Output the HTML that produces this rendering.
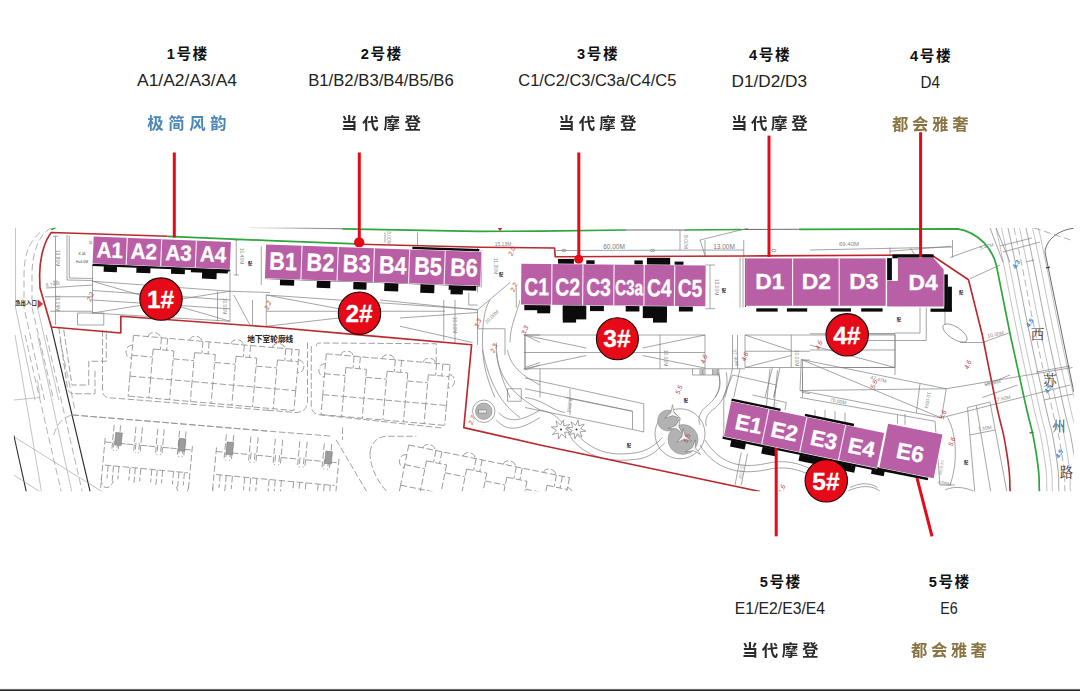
<!DOCTYPE html>
<html lang="zh-CN"><head><meta charset="utf-8"><title>楼栋户型分布图</title>
<style>html,body{margin:0;padding:0;background:#fff;}body{width:1080px;height:691px;overflow:hidden;}svg{display:block;font-family:'Liberation Sans','Noto Sans CJK SC',sans-serif;}</style></head><body>
<svg width="1080" height="691" viewBox="0 0 1080 691">
<defs><filter id="soft" x="-5%" y="-20%" width="110%" height="140%"><feGaussianBlur stdDeviation="0.35"/></filter><clipPath id="mapclip"><rect x="13.8" y="227.7" width="1060" height="263.6"/></clipPath></defs>
<rect x="0" y="0" width="1080" height="691" fill="#fff"/>
<g id="cad" clip-path="url(#mapclip)" fill="none">
<path stroke="#7e7e7e" stroke-width="0.7" d="M 67 235 L 67 280 L 93 280.5 M 69.25 235.5 L 69.25 278 L 93 278.5 M 92.5 265 L 92.5 313.75 M 92.5 281.25 L 230 291.25 L 230 321.25 L 92.5 313 M 92.5 281.25 L 230 321.25 M 92.5 313 L 230 291.25 M 92.5 290.5 L 230 300 M 92.5 300 L 230 308.75 M 46.25 288 L 92.5 285 M 45 296.75 L 92.5 296.75 M 50 311.25 L 92.5 311.25 M 77.5 313 L 103.75 313 L 103.75 325 L 77.5 325 Z M 55.5 236.25 L 55.5 325 M 53 281.25 L 58 281.25 M 53 236.25 L 58 236.25 M 236.25 240 L 236.25 275 M 233.75 240 L 238.75 240 M 233.75 275 L 238.75 275 M 230 268.75 L 230 291.25 M 233.75 295 L 250 325 M 230 291.25 L 270 292.5 M 252.5 300 L 252.5 325.5 M 217.5 291.25 L 217.5 321.25 M 261.25 246.25 L 261.25 285"/>
<path stroke="#9a9a9a" stroke-width="0.6" d="M 15.5 228 L 15.5 307.5 L 35 400 M 37.5 307.5 L 58.75 400"/>
<path stroke="#989898" stroke-width="0.75" stroke-dasharray="7 3.5" d="M 40 232.5 C 27.5 243.75 24 257.5 24 275 L 24 307.5 L 44.5 400 M 51.25 228 C 37.5 235 32 255 32 275 L 32 300 M 32 307.5 L 53.75 400"/>
<path stroke="#2a2a2a" stroke-width="1.1" d="M51.3 327 L90.2 492"/>
<path stroke="#7e7e7e" stroke-width="0.7" d="M 250 226.25 L 342.5 228.75 M 266.25 295 L 477.5 309.5 M 266.25 295 L 266.25 326.25 M 266.25 311.25 L 337.5 311.25 M 266.25 295 L 338.75 308.75 M 266.25 326.25 L 338.75 318 M 380 300 L 477.5 310 M 400 318 L 477.5 312.5 M 400 326.25 L 472.5 342.5 M 380 311.25 L 445 311.25 M 443.75 300 L 443.75 340.5 M 455 300 L 455 342.5 M 477.5 248 L 477.5 292.5 M 481.25 250 L 481.25 287.5 M 468.75 293 L 468.75 305 L 477.5 305 M 477.5 310 L 510 282.5 M 477.5 310 L 477.5 345 M 477.5 328.75 L 505 328.75 L 505 355 M 490 300 C 485 307.5 482.5 320 482.5 342.5 M 482.5 342.5 C 482.5 365 487.5 380 495 397.5 M 496.25 342.5 C 496.25 365 502.5 380 510 397.5 M 516.25 287.5 L 516.25 307.5 M 520 300 C 517.5 312.5 510 325 510 342.5 M 525 335 L 540 335 M 525 335 L 525 370 L 540 365 M 385 232.5 L 385 242.5 M 417.5 232.5 L 417.5 245"/>
<path stroke="#444" stroke-width="0.8" d="M 626.25 230 L 685 230 M 741.25 229.5 L 798.75 229.25"/>
<path stroke="#7e7e7e" stroke-width="0.7" d="M 556.25 250.5 L 743.75 250 M 680 230 L 680 250 M 700 240 L 705.5 257 M 700 240 L 748.75 228 M 743.75 240 L 743.75 257 M 705 240 L 705 257 M 710 265 L 710 308.75 M 705.5 265 L 715 265 M 705.5 308.75 L 715 308.75 M 740 257.5 L 740 307.5 M 743 257.5 L 743 307.5 M 523.75 335 L 705 335 L 705 368.75 L 523.75 368.75 M 523.75 352.5 L 705 352.5 M 523.75 335 L 586.25 348 M 523.75 368.75 L 586.25 355.5 M 642.5 348 L 705 335 M 642.5 355.5 L 705 368 M 660 335 L 660 368.75 M 692.5 368.75 L 692.5 375 L 718.75 375 L 718.75 368.75 M 745 335 L 810 335 M 745 367.5 L 810 367.5 M 745 335 L 745 367.5 M 791.25 335 L 791.25 367.5 M 745 335 L 791.25 350.5 M 745 367.5 L 791.25 355.5 M 745 351.25 L 810 351.25 M 732.5 335 L 732.5 368.75 M 737.5 335 L 737.5 368.75 M 705 368.75 L 745 368.75 M 732.5 368.75 L 725 397.5 M 740 368.75 L 733.75 397.5 M 718.75 375 C 721.25 385 720 390 715 397.5 M 540 368.75 L 540 397.5 M 802.5 360 L 810 360 M 802.5 360 L 802.5 397.5 M 772.5 367.5 L 765 397.5 M 780 367.5 L 773.75 397.5"/>
<path stroke="#2a2a2a" stroke-width="1.1" d="M 745.5 258 L 745.5 307"/>
<ellipse cx="563.8" cy="250.5" rx="2.2" ry="1.2" stroke="#7e7e7e" stroke-width="0.7"/>
<ellipse cx="652.5" cy="250.5" rx="2.2" ry="1.2" stroke="#7e7e7e" stroke-width="0.7"/>
<ellipse cx="773.8" cy="250.5" rx="2.2" ry="1.2" stroke="#7e7e7e" stroke-width="0.7"/>
<path stroke="#7e7e7e" stroke-width="0.7" d="M 810 250 L 952.5 247 M 952.5 240 L 952.5 257.5 M 890 251.25 L 951.25 246.25 M 890 247.5 L 890 256.25 M 910 247.5 L 915 255 M 946.25 275 L 946.25 307.5 M 950 257.5 L 985 245 M 970 278.75 L 1000 265 M 920 307.5 L 920 333 L 895 333 M 926.25 307.5 L 926.25 340.5 L 867.5 340.5 M 945 307.5 L 945 325 M 960 342.5 L 982.5 342.5 M 982.5 342.5 L 1010 332.5 M 810 333.75 L 895 333.75 L 895 375 M 810 367.5 L 895 367.5 M 810 345 L 895 367.5 M 857.5 333.75 L 895 333.75 M 810 350 L 895 350 M 985 385 L 1010 375 M 982.5 397.5 L 1017.5 385"/>
<ellipse cx="955.0" cy="333.0" rx="14" ry="6" transform="rotate(33 955.0 333.0)" stroke="#7e7e7e" stroke-width="0.7"/>
<path stroke="#2a2a2a" stroke-width="1.1" d="M 13.75 435 L 27 495"/>
<path stroke="#9a9a9a" stroke-width="0.6" d="M 15 335 L 42 495 M 37.5 335 L 72.5 495 M 13.75 475 L 45 495 M 15 437.5 L 107.5 495 M 13.75 400 L 40 397.5 L 37.5 380"/>
<path stroke="#989898" stroke-width="0.75" stroke-dasharray="7 3.5" d="M 25 335 L 62 495 M 46.25 335 L 83 495 M 60 340 L 75 410 M 53.75 435 C 57.5 422.5 65 415 75 415"/>
<path stroke="#969696" stroke-width="0.9" stroke-dasharray="6.5 2.5" d="M 63.75 330 L 72 385 L 88.75 385 L 88.75 361.25 L 106.25 361.25 L 106.25 330 M 58.75 327.5 L 67.5 388.75 C 68.75 393 72.5 393.75 75 393.75 L 95 393.75 L 95 370"/>
<path stroke="#969696" stroke-width="0.9" stroke-dasharray="6.5 2.5" d="M 102.5 330 L 102.5 391.25 C 103 397 107.5 398 112.5 398 L 270 410.5 M 72.5 415 L 150 421.25 L 270 431.25"/>
<g transform="translate(133.5 335.3) rotate(5.0)"><path stroke="#969696" stroke-width="0.9" stroke-dasharray="6.5 2.5" d="M0 0 L166.4 0 M14.8 0 C14.8 -6 26.8 -6 26.8 0 M56.4 0 C56.4 -6 68.4 -6 68.4 0 M98.0 0 C98.0 -6 110.0 -6 110.0 0 M139.6 0 C139.6 -6 151.6 -6 151.6 0 M0 10 C-8 10 -8 23 0 23 M166.4 10 C174.4 10 174.4 23 166.4 23 M0.0 0 L0.0 41 M20.8 12 L20.8 41 M41.6 12 L41.6 41 M62.4 12 L62.4 41 M83.2 12 L83.2 41 M104.0 12 L104.0 41 M124.8 12 L124.8 41 M145.6 12 L145.6 41 M166.4 0 L166.4 41 M0.0 20 L20.8 20 M20.8 12 L41.6 12 M28.1 0 L28.1 12 M34.3 0 L34.3 12 M41.6 20 L62.4 20 M62.4 12 L83.2 12 M69.7 0 L69.7 12 M75.9 0 L75.9 12 M83.2 20 L104.0 20 M104.0 12 L124.8 12 M111.3 0 L111.3 12 M117.5 0 L117.5 12 M124.8 20 L145.6 20 M145.6 12 L166.4 12 M152.9 0 L152.9 12 M159.1 0 L159.1 12 M0 41 L166.4 41 M0.0 41 L0.0 61 M20.8 41 L20.8 61 M41.6 41 L41.6 61 M62.4 41 L62.4 61 M83.2 41 L83.2 61 M104.0 41 L104.0 61 M124.8 41 L124.8 61 M145.6 41 L145.6 61 M166.4 41 L166.4 61 M0 61 L166.4 61"/></g>
<g transform="translate(326.3 353.8) rotate(5.0)"><path stroke="#969696" stroke-width="0.9" stroke-dasharray="6.5 2.5" d="M0 0 L124.19999999999999 0 M14.7 0 C14.7 -6 26.7 -6 26.7 0 M56.1 0 C56.1 -6 68.1 -6 68.1 0 M97.5 0 C97.5 -6 109.5 -6 109.5 0 M0 10 C-8 10 -8 23 0 23 M124.19999999999999 10 C132.2 10 132.2 23 124.19999999999999 23 M0.0 0 L0.0 41 M20.7 12 L20.7 41 M41.4 12 L41.4 41 M62.1 12 L62.1 41 M82.8 12 L82.8 41 M103.5 12 L103.5 41 M124.2 0 L124.2 41 M0.0 20 L20.7 20 M20.7 12 L41.4 12 M27.9 0 L27.9 12 M34.2 0 L34.2 12 M41.4 20 L62.1 20 M62.1 12 L82.8 12 M69.3 0 L69.3 12 M75.6 0 L75.6 12 M82.8 20 L103.5 20 M103.5 12 L124.2 12 M110.7 0 L110.7 12 M117.0 0 L117.0 12 M0 41 L124.19999999999999 41 M0.0 41 L0.0 61 M20.7 41 L20.7 61 M41.4 41 L41.4 61 M62.1 41 L62.1 61 M82.8 41 L82.8 61 M103.5 41 L103.5 61 M124.2 41 L124.2 61 M0 61 L124.19999999999999 61"/></g>
<path stroke="#969696" stroke-width="0.9" stroke-dasharray="6.5 2.5" d="M 316.25 346.25 C 316.25 343.75 317.5 343 320 343 L 436.25 343.75 L 436.25 362.5 M 311.25 346.25 L 311.25 406.25 C 312 413 316.25 414.5 321.25 415 L 442.5 428 M 307.5 342.5 L 307.5 402.5 C 306.25 410 302.5 412.5 295 412.5 L 265 410 M 336.25 440 L 368.75 495 M 342.5 427.5 L 342.5 440 M 370 452.5 C 371.25 442.5 377.5 436.25 387.5 436.25 L 416.25 436.25 M 370 452.5 C 370 470 380 485 390 495"/>
<g transform="translate(105.2 438.0) rotate(5.3)"><path stroke="#969696" stroke-width="0.9" stroke-dasharray="6.5 2.5" d="M0 0 L0 50 M87.6 0 L87.6 50 M0.0 4 L7.7 4 M14.2 4 L21.9 4 M7.7 -14 L7.7 10 M14.2 -14 L14.2 10 M9.2 2 L9.2 12 M12.7 2 L12.7 12 M21.9 4 L29.6 4 M36.1 4 L43.8 4 M29.6 -14 L29.6 10 M36.1 -14 L36.1 10 M31.1 2 L31.1 12 M34.6 2 L34.6 12 M43.8 4 L51.5 4 M58.0 4 L65.7 4 M51.5 -14 L51.5 10 M58.0 -14 L58.0 10 M53.0 2 L53.0 12 M56.5 2 L56.5 12 M65.7 4 L73.4 4 M79.9 4 L87.6 4 M73.4 -14 L73.4 10 M79.9 -14 L79.9 10 M74.9 2 L74.9 12 M78.4 2 L78.4 12 M2 27 L85.6 27 M5.5 27 L5.5 40 M10.9 27 L10.9 42 M16.4 27 L16.4 40 M27.4 27 L27.4 40 M32.8 27 L32.8 42 M38.3 27 L38.3 40 M49.3 27 L49.3 40 M54.8 27 L54.8 42 M60.2 27 L60.2 40 M71.2 27 L71.2 40 M76.6 27 L76.6 42 M82.1 27 L82.1 40 M0 40 C0 52 10 52 12 42 M87.6 40 C87.6 52 77.6 52 75.6 42"/><rect x="10.0" y="-6.5" width="6.6" height="12.4" fill="#9c9c9c" stroke="#707070" stroke-width="0.5"/><rect x="73.8" y="-6.5" width="6.6" height="12.4" fill="#9c9c9c" stroke="#707070" stroke-width="0.5"/></g>
<g transform="translate(216.5 447.5) rotate(5.3)"><path stroke="#969696" stroke-width="0.9" stroke-dasharray="6.5 2.5" d="M0 0 L0 50 M123.0 0 L123.0 50 M0.0 4 L8.6 4 M16.0 4 L24.6 4 M8.6 -14 L8.6 10 M16.0 -14 L16.0 10 M10.3 2 L10.3 12 M14.3 2 L14.3 12 M24.6 4 L33.2 4 M40.6 4 L49.2 4 M33.2 -14 L33.2 10 M40.6 -14 L40.6 10 M34.9 2 L34.9 12 M38.9 2 L38.9 12 M49.2 4 L57.8 4 M65.2 4 L73.8 4 M57.8 -14 L57.8 10 M65.2 -14 L65.2 10 M59.5 2 L59.5 12 M63.5 2 L63.5 12 M73.8 4 L82.4 4 M89.8 4 L98.4 4 M82.4 -14 L82.4 10 M89.8 -14 L89.8 10 M84.1 2 L84.1 12 M88.1 2 L88.1 12 M98.4 4 L107.0 4 M114.4 4 L123.0 4 M107.0 -14 L107.0 10 M114.4 -14 L114.4 10 M108.7 2 L108.7 12 M112.7 2 L112.7 12 M2 27 L121.0 27 M6.2 27 L6.2 40 M12.3 27 L12.3 42 M18.5 27 L18.5 40 M30.8 27 L30.8 40 M36.9 27 L36.9 42 M43.1 27 L43.1 40 M55.4 27 L55.4 40 M61.5 27 L61.5 42 M67.7 27 L67.7 40 M80.0 27 L80.0 40 M86.1 27 L86.1 42 M92.3 27 L92.3 40 M104.6 27 L104.6 40 M110.7 27 L110.7 42 M116.9 27 L116.9 40 M0 40 C0 52 10 52 12 42 M123.0 40 C123.0 52 113.0 52 111.0 42"/><rect x="10.0" y="-6.5" width="6.6" height="12.4" fill="#9c9c9c" stroke="#707070" stroke-width="0.5"/><rect x="109.2" y="-6.5" width="6.6" height="12.4" fill="#9c9c9c" stroke="#707070" stroke-width="0.5"/></g>
<path stroke="#969696" stroke-width="0.9" stroke-dasharray="6.5 2.5" d="M72.5 415 L150 421.3 L270 431.3 L330 436"/>
<g transform="translate(408.8 445.0) rotate(11.5)"><path stroke="#969696" stroke-width="0.9" stroke-dasharray="6.5 2.5" d="M0 0 L164.0 0 M14.5 0 C14.5 -6 26.5 -6 26.5 0 M55.5 0 C55.5 -6 67.5 -6 67.5 0 M96.5 0 C96.5 -6 108.5 -6 108.5 0 M137.5 0 C137.5 -6 149.5 -6 149.5 0 M0 10 C-8 10 -8 23 0 23 M164.0 10 C172.0 10 172.0 23 164.0 23 M0.0 0 L0.0 41 M20.5 12 L20.5 41 M41.0 12 L41.0 41 M61.5 12 L61.5 41 M82.0 12 L82.0 41 M102.5 12 L102.5 41 M123.0 12 L123.0 41 M143.5 12 L143.5 41 M164.0 0 L164.0 41 M0.0 20 L20.5 20 M20.5 12 L41.0 12 M27.7 0 L27.7 12 M33.8 0 L33.8 12 M41.0 20 L61.5 20 M61.5 12 L82.0 12 M68.7 0 L68.7 12 M74.8 0 L74.8 12 M82.0 20 L102.5 20 M102.5 12 L123.0 12 M109.7 0 L109.7 12 M115.8 0 L115.8 12 M123.0 20 L143.5 20 M143.5 12 L164.0 12 M150.7 0 L150.7 12 M156.8 0 L156.8 12 M0 41 L164.0 41 M0.0 41 L0.0 61 M20.5 41 L20.5 61 M41.0 41 L41.0 61 M61.5 41 L61.5 61 M82.0 41 L82.0 61 M102.5 41 L102.5 61 M123.0 41 L123.0 61 M143.5 41 L143.5 61 M164.0 41 L164.0 61 M0 61 L164.0 61"/></g>
<path stroke="#7e7e7e" stroke-width="0.7" d="M 482.5 350 C 487.5 372.5 495 400 520 417.5 M 496.25 352.5 C 498.75 372.5 507.5 392.5 540 410 M 507.5 350 C 510 362.5 516.25 372.5 540 385 M 507.5 388.75 L 521.25 388.75 L 521.25 401.25 L 507.5 401.25 Z M 525 335 L 525 367.5 L 540 362.5 M 525 335 L 540 342.5 M 496.25 420 C 507.5 432.5 520 430 540 417.5 M 498.75 412.5 C 507.5 422.5 520 422.5 540 410"/>
<circle cx="483.75" cy="411.25" r="11.2" stroke="#7e7e7e" stroke-width="0.7"/>
<circle cx="483.75" cy="411.25" r="8.3" fill="#b4b4b4" stroke="#777" stroke-width="0.5"/>
<rect x="478.75" y="410.00" width="8" height="3" fill="#eee" stroke="#555" stroke-width="0.4"/>
<path stroke="#7e7e7e" stroke-width="0.7" d="M 525 378 L 643.75 403.75 L 643.75 432 M 525 388.75 L 632.5 411.25 L 632.5 429.5 L 525 407.5 M 632.5 429.5 L 643.75 432 M 565 397.5 L 632.5 411.25 M 570 388.75 L 570 415 M 525 397.5 C 545 400 550 410 565 412.5 M 572.5 440 C 590 460 615 462.5 640 458.75 C 652.5 456.25 660 447.5 665 442.5 M 577.5 435 C 595 453.75 615 456.25 637.5 452.5 C 650 450 657.5 442.5 662.5 437.5 M 540 410 C 555 412.5 562.5 420 572.5 440 M 700 445 C 715 470 740 475 765 470 C 785 465 800 470 810 475 M 705 440 C 720 463.75 740 468.75 765 463.75 C 785 458.75 800 463.75 810 468.75 M 718.75 372.5 C 722.5 390 715 400 705 407.5 C 700 412.5 697.5 417.5 700 425 M 726.25 372.5 C 730 392.5 720 405 712.5 410 C 706.25 415 705 420 706.25 426.25 M 723.75 396.25 L 723.75 438.75 M 723.75 396.25 L 732.5 375 M 732.5 375 L 776.25 385 L 773.75 397.5 M 752.5 395 L 786.25 402.5 L 785 410 M 770 368.75 L 766.25 407.5 M 777.5 370 L 773.75 408.75 M 741.25 452.5 L 735 485 M 747.5 453.75 L 741.25 485 M 802.5 372.5 L 802.5 392.5 L 810 393.75"/>
<polygon points="570.66,432.09 564.57,432.24 566.00,438.16 561.59,433.96 558.41,439.16 558.26,433.07 552.34,434.50 556.54,430.09 551.34,426.91 557.43,426.76 556.00,420.84 560.41,425.04 563.59,419.84 563.74,425.93 569.66,424.50 565.46,428.91" fill="#fff" stroke="#7e7e7e" stroke-width="0.7"/>
<polygon points="585.86,431.15 580.11,431.80 581.95,437.28 577.43,433.67 574.85,438.86 574.20,433.11 568.72,434.95 572.33,430.43 567.14,427.85 572.89,427.20 571.05,421.72 575.57,425.33 578.15,420.14 578.80,425.89 584.28,424.05 580.67,428.57" fill="#fff" stroke="#7e7e7e" stroke-width="0.7"/>
<circle cx="561" cy="429.5" r="1" fill="#333"/><circle cx="576.5" cy="429.5" r="1" fill="#333"/>
<circle cx="680.00" cy="433.75" r="25" stroke="#7e7e7e" stroke-width="0.7"/>
<circle cx="668.00" cy="420.50" r="10.5" fill="#b2b2b2" stroke="#888" stroke-width="0.5"/>
<circle cx="683.00" cy="439.50" r="15" fill="#b2b2b2" stroke="#888" stroke-width="0.5"/>
<polygon points="672.50,404.75 674.21,412.76 680.29,418.25 672.50,415.73 664.71,418.25 670.79,412.76" fill="#f4f4f4" stroke="#666" stroke-width="0.5"/>
<polygon points="680.08,418.54 678.95,426.66 682.79,433.89 676.32,428.86 668.14,428.56 675.73,425.48" fill="#f4f4f4" stroke="#666" stroke-width="0.5"/>
<polygon points="682.97,428.53 685.37,436.36 691.91,441.30 683.92,439.47 676.38,442.66 681.96,436.66" fill="#f4f4f4" stroke="#666" stroke-width="0.5"/>
<polygon points="695.31,439.89 695.61,448.07 700.64,454.54 693.41,450.70 685.29,451.83 692.23,447.48" fill="#f4f4f4" stroke="#666" stroke-width="0.5"/>
<path stroke="#7e7e7e" stroke-width="0.7" d="M 801.25 359.5 L 946.25 388.75 L 941.5 418 L 800 390.5 Z M 801.25 359.5 L 941.5 418 M 800 390.5 L 946.25 388.75 M 920 383.5 L 916.25 413 M 800 397.5 L 935 421.25 M 810 335 L 895 335 L 895 367.5 L 840 367.5 M 815 410 L 815 417.5 L 852.5 425 M 825 410 L 825 420 M 835 411.25 L 835 422.5 M 845 412.5 L 845 423.75 M 897.5 415 L 897.5 423.75 M 905 413.75 L 905 425 M 935 421.25 L 940 485 M 946.25 388.75 L 1072.5 367.5 M 942.5 417.5 L 1070 385 M 967.5 407.5 L 990 402 L 1007.5 495 M 967.5 407.5 L 975 495 M 976.25 405.5 L 991.25 495 M 970 435 L 995 430 M 947.5 417.5 C 957.5 435 957.5 465 950 485 M 940 485 L 955 485 M 850 487.5 C 860 482.5 870 482.5 877.5 487.5 M 847.5 491.25 C 860 485 872.5 485 880 491.25 M 945 490 C 955 485 970 487.5 980 495"/>
<path stroke="#9a9a9a" stroke-width="0.6" d="M996.0 228.0 C998.6 240.3 996.5 229.3 1003.8 265.0 C1011.1 300.7 1008.4 290.0 1017.8 335.0 C1027.2 380.0 1023.5 361.0 1032.1 400.0 C1040.7 439.0 1038.5 421.3 1043.5 452.0 C1048.5 482.7 1045.8 478.7 1047.0 492.0"/>
<path stroke="#9a9a9a" stroke-width="0.6" d="M1001.5 228.0 C1004.1 240.3 1002.0 229.3 1009.3 265.0 C1016.6 300.7 1013.9 290.0 1023.3 335.0 C1032.7 380.0 1029.0 361.0 1037.6 400.0 C1046.2 439.0 1044.0 421.3 1049.0 452.0 C1054.0 482.7 1051.3 478.7 1052.5 492.0"/>
<path stroke="#7e7e7e" stroke-width="0.7" d="M1008.0 228.0 C1010.6 240.3 1008.5 229.3 1015.8 265.0 C1023.1 300.7 1020.4 290.0 1029.8 335.0 C1039.2 380.0 1035.5 361.0 1044.1 400.0 C1052.7 439.0 1050.5 421.3 1055.5 452.0 C1060.5 482.7 1057.8 478.7 1059.0 492.0"/>
<path stroke="#989898" stroke-width="0.75" stroke-dasharray="7 3.5" d="M1014.0 228.0 C1016.6 240.3 1014.5 229.3 1021.8 265.0 C1029.1 300.7 1026.4 290.0 1035.8 335.0 C1045.2 380.0 1041.5 361.0 1050.1 400.0 C1058.7 439.0 1056.5 421.3 1061.5 452.0 C1066.5 482.7 1063.8 478.7 1065.0 492.0"/>
<path stroke="#9a9a9a" stroke-width="0.6" d="M1019.5 228.0 C1022.1 240.3 1020.0 229.3 1027.3 265.0 C1034.6 300.7 1031.9 290.0 1041.3 335.0 C1050.7 380.0 1047.0 361.0 1055.6 400.0 C1064.2 439.0 1062.0 421.3 1067.0 452.0 C1072.0 482.7 1069.3 478.7 1070.5 492.0"/>
<path stroke="#7e7e7e" stroke-width="0.7" d="M1026.0 228.0 C1028.6 240.3 1026.5 229.3 1033.8 265.0 C1041.1 300.7 1038.4 290.0 1047.8 335.0 C1057.2 380.0 1053.5 361.0 1062.1 400.0 C1070.7 439.0 1068.5 421.3 1073.5 452.0 C1078.5 482.7 1075.8 478.7 1077.0 492.0"/>
<path stroke="#9a9a9a" stroke-width="0.6" d="M1032.5 228.0 C1035.1 240.3 1033.0 229.3 1040.3 265.0 C1047.6 300.7 1044.9 290.0 1054.3 335.0 C1063.7 380.0 1060.0 361.0 1068.6 400.0 C1077.2 439.0 1075.0 421.3 1080.0 452.0 C1085.0 482.7 1082.3 478.7 1083.5 492.0"/>
<path stroke="#9a9a9a" stroke-width="0.6" d="M1038.5 228.0 C1041.1 240.3 1039.0 229.3 1046.3 265.0 C1053.6 300.7 1050.9 290.0 1060.3 335.0 C1069.7 380.0 1066.0 361.0 1074.6 400.0 C1083.2 439.0 1081.0 421.3 1086.0 452.0 C1091.0 482.7 1088.3 478.7 1089.5 492.0"/>
<path stroke="#7e7e7e" stroke-width="0.7" d="M990 228 L1003 262 M996 228 L1010 262"/>
<path stroke="#7e7e7e" stroke-width="0.7" d="M1000 246 L1032 238 M1003 252 L1040 242 M1026 262 L1034 260 M1036 372 L1070 366 M1044 400 L1073 394"/>
<path stroke="#444" stroke-width="0.8" d="M1073.8 228.3 C1058 230 1046 240 1045 252 L1073.8 392"/>
<path stroke="#2a2a2a" stroke-width="1.1" d="M1046 268 L1050 267 M1029.5 433 L1033.5 432.5"/>
<path stroke="#989898" stroke-width="0.75" stroke-dasharray="7 3.5" d="M1034 228 L1074 241"/>
<text x="1037.5" y="339" font-size="13.5" fill="#3a3a3a" stroke="none" text-anchor="middle" font-weight="400" font-family="'Liberation Serif','Noto Serif CJK SC',serif">西</text>
<text x="1050" y="385" font-size="13.5" fill="#3a3a3a" stroke="none" text-anchor="middle" font-weight="400" font-family="'Liberation Serif','Noto Serif CJK SC',serif">苏</text>
<text x="1059" y="431" font-size="13.5" fill="#3a3a3a" stroke="none" text-anchor="middle" font-weight="400" font-family="'Liberation Serif','Noto Serif CJK SC',serif">州</text>
<text x="1066.6" y="477" font-size="13.5" fill="#3a3a3a" stroke="none" text-anchor="middle" font-weight="400" font-family="'Liberation Serif','Noto Serif CJK SC',serif">路</text>
<path stroke="#2da63b" stroke-width="1.7" d="M51.3 229.8 L55.8 227.2"/>
<path stroke="#2da63b" stroke-width="1.7" d="M167.5 236.4 L270 240.6 L356 243.8"/>
<path stroke="#2da63b" stroke-width="1.7" d="M342.5 228.8 L477.5 231.3 L540 231.2 L626.3 230"/>
<path stroke="#2da63b" stroke-width="1.7" d="M685 230 L741.5 229.5"/>
<path stroke="#2da63b" stroke-width="1.7" d="M799 229.3 L957.5 228.8 C980 232.5 992.5 250 996.3 265 L1010.3 335  C1015.1 356.7 1016.0 361.0 1024.6 400.0 C1033.2 439.0 1031.0 421.3 1036.0 452.0 C1041.0 482.7 1038.3 478.7 1039.5 492.0"/>
<path stroke="#7e7e7e" stroke-width="0.7" d="M250 227.5 L342.5 228.8"/>
<path stroke="#b9292e" stroke-width="1.65" stroke-linejoin="round" d="M167.5 236.3 L51.3 232.5 C45 240 39.6 257 39.6 275 L40 288 L51.3 327 L120.8 333 L120.8 316.3 L270 327 L365 335.4 L471.6 344.8 L463.8 427.6 L540 445 L760 491.5"/>
<path stroke="#b9292e" stroke-width="1.65" stroke-linejoin="round" d="M360 244.2 L481 247.2 L554.6 248 L555.2 256.7 L746 256 L931.5 255 L968.5 279.7 L982.3 335  C986.7 356.7 987.3 361.0 995.4 400.0 C1003.5 439.0 1001.7 421.3 1006.6 452.0 C1011.5 482.7 1009.0 478.7 1010.2 492.0"/>
<text x="26" y="304.5" font-size="5.4" fill="#1e1e1e" stroke="none" text-anchor="middle" font-weight="700">急出入口</text>
<polygon points="37.6,299.3 43.2,303.9 37.6,308.4" fill="#d8383c"/>
<text x="82" y="254.5" font-size="3.6" fill="#444" stroke="none" text-anchor="middle" font-weight="400">K 站</text>
<text x="82" y="263" font-size="3.4" fill="#444" stroke="none" text-anchor="middle" font-weight="400">H=6.0M</text>
<text x="88.5" y="242.5" font-size="3.6" fill="#555" stroke="none" text-anchor="middle" font-weight="400" transform="rotate(90 88.5 242.5)">1F</text>
<text x="270.2" y="342.2" font-size="7.7" fill="#222" stroke="none" text-anchor="middle" font-weight="700">地下室轮廓线</text>
<text x="56" y="258" font-size="5" fill="#888" stroke="none" text-anchor="middle" font-weight="400" transform="rotate(90 56 258)">13.80M</text>
<text x="56" y="303" font-size="5" fill="#888" stroke="none" text-anchor="middle" font-weight="400" transform="rotate(90 56 303)">15.19M</text>
<text x="53" y="286" font-size="5" fill="#888" stroke="none" text-anchor="middle" font-weight="400" transform="rotate(-8 53 286)">8.74M</text>
<text x="240" y="256" font-size="5" fill="#888" stroke="none" text-anchor="middle" font-weight="400" transform="rotate(90 240 256)">10.40M</text>
<text x="222.5" y="306" font-size="5" fill="#888" stroke="none" text-anchor="middle" font-weight="400" transform="rotate(90 222.5 306)">10.00M</text>
<text x="282" y="262" font-size="5" fill="#888" stroke="none" text-anchor="middle" font-weight="400" transform="rotate(90 282 262)">11.20M</text>
<text x="387" y="238" font-size="5" fill="#888" stroke="none" text-anchor="middle" font-weight="400" transform="rotate(90 387 238)">3.00M</text>
<text x="453" y="325" font-size="5" fill="#888" stroke="none" text-anchor="middle" font-weight="400" transform="rotate(90 453 325)">10.00M</text>
<text x="493" y="318" font-size="5" fill="#888" stroke="none" text-anchor="middle" font-weight="400" transform="rotate(-45 493 318)">20.00M</text>
<text x="494" y="266" font-size="5" fill="#888" stroke="none" text-anchor="middle" font-weight="400" transform="rotate(90 494 266)">11.20M</text>
<text x="503" y="245.5" font-size="5" fill="#888" stroke="none" text-anchor="middle" font-weight="400">15.13M</text>
<text x="614" y="249" font-size="6.5" fill="#777" stroke="none" text-anchor="middle" font-weight="400">60.00M</text>
<text x="724" y="249" font-size="6.5" fill="#777" stroke="none" text-anchor="middle" font-weight="400">13.00M</text>
<text x="684" y="242" font-size="5" fill="#888" stroke="none" text-anchor="middle" font-weight="400" transform="rotate(90 684 242)">8.00M</text>
<text x="715" y="287" font-size="5" fill="#888" stroke="none" text-anchor="middle" font-weight="400" transform="rotate(90 715 287)">13.00M</text>
<text x="664" y="358" font-size="5" fill="#888" stroke="none" text-anchor="middle" font-weight="400" transform="rotate(90 664 358)">10.00M</text>
<text x="795" y="358" font-size="5" fill="#888" stroke="none" text-anchor="middle" font-weight="400" transform="rotate(90 795 358)">10.00M</text>
<text x="734" y="358" font-size="5" fill="#888" stroke="none" text-anchor="middle" font-weight="400" transform="rotate(80 734 358)">27.40M</text>
<text x="849" y="245.5" font-size="6" fill="#888" stroke="none" text-anchor="middle" font-weight="400">69.40M</text>
<text x="987" y="248" font-size="5" fill="#888" stroke="none" text-anchor="middle" font-weight="400" transform="rotate(-15 987 248)">5.47M</text>
<text x="996" y="336" font-size="5" fill="#888" stroke="none" text-anchor="middle" font-weight="400" transform="rotate(-12 996 336)">10.00M</text>
<text x="878" y="381" font-size="5" fill="#888" stroke="none" text-anchor="middle" font-weight="400" transform="rotate(15 878 381)">47.47M</text>
<text x="838" y="403" font-size="5" fill="#888" stroke="none" text-anchor="middle" font-weight="400" transform="rotate(12 838 403)">70.00M</text>
<text x="926" y="400" font-size="5" fill="#888" stroke="none" text-anchor="middle" font-weight="400" transform="rotate(100 926 400)">10.00M</text>
<text x="993" y="384.5" font-size="5" fill="#888" stroke="none" text-anchor="middle" font-weight="400" transform="rotate(-12 993 384.5)">50.94M</text>
<text x="1004" y="400" font-size="5" fill="#888" stroke="none" text-anchor="middle" font-weight="400" transform="rotate(-12 1004 400)">7.50M</text>
<text x="985" y="430" font-size="5" fill="#888" stroke="none" text-anchor="middle" font-weight="400" transform="rotate(-10 985 430)">7.30M</text>
<text x="773" y="409" font-size="4.5" fill="#999" stroke="none" text-anchor="middle" font-weight="400" transform="rotate(100 773 409)">22.50M</text>
<text x="740" y="471" font-size="4.5" fill="#999" stroke="none" text-anchor="middle" font-weight="400" transform="rotate(100 740 471)">13.50M</text>
<text x="940" y="467" font-size="4.5" fill="#999" stroke="none" text-anchor="middle" font-weight="400" transform="rotate(100 940 467)">14.50M</text>
<text x="568" y="405" font-size="5" fill="#888" stroke="none" text-anchor="middle" font-weight="400" transform="rotate(100 568 405)">8.20M</text>
<text x="944" y="485" font-size="5" fill="#888" stroke="none" text-anchor="middle" font-weight="400" transform="rotate(10 944 485)">4.00M</text>
<polygon points="497.6,227.8 502.4,227.8 500,231" fill="#cc2b30"/>
<text x="92.5" y="297.5" font-size="6.6" font-style="italic" fill="#b8383c" stroke="none" text-anchor="middle" transform="rotate(-68 92.5 297.5)">2.2</text>
<text x="270" y="306" font-size="6.6" font-style="italic" fill="#b8383c" stroke="none" text-anchor="middle" transform="rotate(-68 270 306)">2.2</text>
<text x="514" y="252" font-size="6.6" font-style="italic" fill="#b8383c" stroke="none" text-anchor="middle" transform="rotate(-68 514 252)">2.0</text>
<text x="516" y="288" font-size="6.6" font-style="italic" fill="#b8383c" stroke="none" text-anchor="middle" transform="rotate(-68 516 288)">2.2</text>
<text x="480" y="324" font-size="6.6" font-style="italic" fill="#b8383c" stroke="none" text-anchor="middle" transform="rotate(-68 480 324)">3.3</text>
<text x="527" y="331" font-size="6.6" font-style="italic" fill="#b8383c" stroke="none" text-anchor="middle" transform="rotate(-68 527 331)">3.3</text>
<text x="496" y="349" font-size="6.6" font-style="italic" fill="#b8383c" stroke="none" text-anchor="middle" transform="rotate(-68 496 349)">2.3</text>
<text x="706" y="360" font-size="6.6" font-style="italic" fill="#b8383c" stroke="none" text-anchor="middle" transform="rotate(-68 706 360)">4.6</text>
<text x="747" y="357.5" font-size="6.6" font-style="italic" fill="#b8383c" stroke="none" text-anchor="middle" transform="rotate(-68 747 357.5)">4.6</text>
<text x="681" y="390.5" font-size="6.6" font-style="italic" fill="#b8383c" stroke="none" text-anchor="middle" transform="rotate(-68 681 390.5)">5.5</text>
<text x="689" y="439" font-size="6.6" font-style="italic" fill="#b8383c" stroke="none" text-anchor="middle" transform="rotate(-68 689 439)">5.5</text>
<text x="821" y="346" font-size="6.6" font-style="italic" fill="#b8383c" stroke="none" text-anchor="middle" transform="rotate(-68 821 346)">4.6</text>
<text x="876" y="385" font-size="6.6" font-style="italic" fill="#b8383c" stroke="none" text-anchor="middle" transform="rotate(-68 876 385)">5.6</text>
<text x="970" y="365.5" font-size="6.6" font-style="italic" fill="#b8383c" stroke="none" text-anchor="middle" transform="rotate(-68 970 365.5)">4.6</text>
<text x="945" y="415.5" font-size="6.6" font-style="italic" fill="#b8383c" stroke="none" text-anchor="middle" transform="rotate(-68 945 415.5)">5.6</text>
<text x="954" y="442.5" font-size="6.6" font-style="italic" fill="#b8383c" stroke="none" text-anchor="middle" transform="rotate(-68 954 442.5)">5.6</text>
<text x="474" y="421" font-size="6.6" font-style="italic" fill="#b8383c" stroke="none" text-anchor="middle" transform="rotate(-68 474 421)">2.7</text>
<text x="784" y="490" font-size="6.6" font-style="italic" fill="#b8383c" stroke="none" text-anchor="middle" transform="rotate(-68 784 490)">1.6</text>
<text x="1018" y="265.5" font-size="6.4" font-style="italic" font-weight="700" fill="#3b80c6" stroke="none" text-anchor="middle" transform="rotate(-60 1018 265.5)">4.3</text>
<text x="1031.5" y="324" font-size="6.4" font-style="italic" font-weight="700" fill="#3b80c6" stroke="none" text-anchor="middle" transform="rotate(-60 1031.5 324)">4.5</text>
<text x="1050" y="390" font-size="6.4" font-style="italic" font-weight="700" fill="#3b80c6" stroke="none" text-anchor="middle" transform="rotate(-60 1050 390)">4.5</text>
<text x="1061" y="455" font-size="6.4" font-style="italic" font-weight="700" fill="#3b80c6" stroke="none" text-anchor="middle" transform="rotate(-60 1061 455)">4.5</text>
<text x="723.8" y="292" font-size="4.2" fill="#222" stroke="none" text-anchor="middle" font-weight="700">配</text>
<text x="961" y="293.5" font-size="4.2" fill="#222" stroke="none" text-anchor="middle" font-weight="700">配</text>
<text x="898.8" y="321" font-size="4.2" fill="#222" stroke="none" text-anchor="middle" font-weight="700">配</text>
<text x="685.8" y="402" font-size="4.2" fill="#222" stroke="none" text-anchor="middle" font-weight="700">配</text>
<text x="628.8" y="446.5" font-size="4.2" fill="#222" stroke="none" text-anchor="middle" font-weight="700">配</text>
<text x="966" y="464" font-size="4.2" fill="#222" stroke="none" text-anchor="middle" font-weight="700">配</text>
<text x="501" y="275.5" font-size="4.2" fill="#222" stroke="none" text-anchor="middle" font-weight="700">配</text>
<text x="250" y="264.5" font-size="4.2" fill="#222" stroke="none" text-anchor="middle" font-weight="700">配</text>
<path stroke="#7e7e7e" stroke-width="0.7" d="M 700 369.25 L 700 375 M 701.25 369.25 L 701.25 375 M 702.5 369.25 L 702.5 375 M 703.75 369.25 L 703.75 375 M 705 369.25 L 705 375 M 712.5 369.25 L 712.5 375 M 713.75 369.25 L 713.75 375 M 715 369.25 L 715 375 M 716.25 369.25 L 716.25 375 M 717.5 369.25 L 717.5 375"/>
</g>
<g fill="#0b0b0b">
<g transform="translate(93.7 236.6) rotate(2.3)">
<rect x="0" y="26.8" width="137.3" height="2.5"/>
<rect x="11.3" y="29" width="13.2" height="5.7"/>
<rect x="44" y="29" width="14" height="5.3"/>
<rect x="78.7" y="29" width="13.8" height="4.9"/>
<rect x="109.8" y="29" width="14.6" height="8.6"/>
<rect x="98.5" y="29" width="37" height="2.6"/>
</g>
<g transform="translate(266.1 244.5) rotate(2.0)">
<rect x="15.2" y="34.2" width="14.2" height="6.0"/>
<rect x="52" y="34.2" width="13.6" height="7.2"/>
<rect x="88.6" y="34.2" width="13.2" height="7.4"/>
<rect x="119.6" y="34.2" width="14.0" height="8.2"/>
<rect x="155.7" y="34.2" width="14.0" height="8.6"/>
<rect x="184" y="33.6" width="27.5" height="5.2"/>
<rect x="186" y="33.6" width="12.3" height="9.6"/>
<rect x="0" y="33.4" width="215.4" height="1.0"/>
<rect x="146.3" y="-2.9" width="67" height="2.9"/>
</g>
<rect x="558" y="258.9" width="15.90" height="5.30"/>
<rect x="586.3" y="260.3" width="8.30" height="4.10"/>
<rect x="634.4" y="260.4" width="8.40" height="4.60"/>
<rect x="646.9" y="257.8" width="23.30" height="7.40"/>
<rect x="674.6" y="261.6" width="8.90" height="4.00"/>
<rect x="524.3" y="304.6" width="25.90" height="5.60"/>
<rect x="537.2" y="306" width="13.00" height="7.30"/>
<rect x="562.8" y="305" width="23.50" height="14.40"/>
<rect x="562.8" y="305" width="13.30" height="17.60"/>
<rect x="590" y="305.2" width="13.90" height="5.90"/>
<rect x="625.7" y="305.5" width="13.70" height="6.00"/>
<rect x="642.8" y="305.8" width="24.10" height="12.30"/>
<rect x="653" y="305.8" width="13.90" height="16.80"/>
<rect x="678.9" y="306" width="13.90" height="5.50"/>
<rect x="756.3" y="308.3" width="21.40" height="3.30"/>
<rect x="786.9" y="308.3" width="20.30" height="3.30"/>
<rect x="830.6" y="308.3" width="20.40" height="3.30"/>
<rect x="861.2" y="308.3" width="21.40" height="3.30"/>
<rect x="930.5" y="308.6" width="21.40" height="3.20"/>
<rect x="887.1" y="258.1" width="4.80" height="22.50"/>
<rect x="892.4" y="254.4" width="41.20" height="3.90"/>
<rect x="944.2" y="274.4" width="3.70" height="34.60"/>
<rect x="947.6" y="286.7" width="4.30" height="24.50"/>
<g transform="translate(731.2 401.3) rotate(11.75)">
<rect x="-1" y="35.5" width="158.5" height="3.0"/>
<rect x="8" y="38" width="15" height="6.5"/>
<rect x="40" y="38" width="14" height="7"/>
<rect x="78" y="38" width="28" height="6.5"/>
<rect x="113" y="38" width="22" height="7"/>
<rect x="0" y="-2.8" width="50" height="2.8"/>
<rect x="75" y="-3.0" width="50" height="3.0"/>
</g>
<g transform="translate(888.1 423.7) rotate(11.3)">
<rect x="-12" y="44.4" width="62" height="3.4"/>
<rect x="-7" y="47" width="13" height="5.5"/>
</g>
</g>
<g stroke="#e60a18" stroke-width="3" stroke-linecap="butt">
<line x1="174.3" y1="152.5" x2="174.3" y2="237.5"/>
<line x1="359.3" y1="152.5" x2="359.3" y2="243"/>
<line x1="578.8" y1="152.5" x2="578.8" y2="260"/>
<line x1="769" y1="135.6" x2="769" y2="257"/>
<line x1="920.6" y1="132.2" x2="920.6" y2="259"/>
<line x1="776.2" y1="447.5" x2="776.2" y2="536.3"/>
<line x1="917" y1="478" x2="932" y2="536.3"/>
</g>
<circle cx="359.2" cy="242.4" r="5.2" fill="#e60a18"/>
<circle cx="578.7" cy="259.3" r="4.5" fill="#e60a18"/>
<g transform="translate(93.7,236.6) rotate(2.3)"><rect x="-0.5" y="-0.5" width="138.3" height="27.8" fill="#fff"/><rect x="0" y="0" width="137.3" height="26.8" fill="#b95fa6"/><text x="16.80" y="20.42" font-size="22" font-weight="700" fill="#fff" stroke="#fff" stroke-width="0.35" text-anchor="middle" textLength="26.2" lengthAdjust="spacingAndGlyphs">A1</text><line x1="33.60" y1="0" x2="33.60" y2="26.8" stroke="#fbf3f9" stroke-width="1.1"/><text x="50.85" y="20.42" font-size="22" font-weight="700" fill="#fff" stroke="#fff" stroke-width="0.35" text-anchor="middle" textLength="26.2" lengthAdjust="spacingAndGlyphs">A2</text><line x1="68.10" y1="0" x2="68.10" y2="26.8" stroke="#fbf3f9" stroke-width="1.1"/><text x="85.45" y="20.42" font-size="22" font-weight="700" fill="#fff" stroke="#fff" stroke-width="0.35" text-anchor="middle" textLength="26.2" lengthAdjust="spacingAndGlyphs">A3</text><line x1="102.80" y1="0" x2="102.80" y2="26.8" stroke="#fbf3f9" stroke-width="1.1"/><text x="120.05" y="20.42" font-size="22" font-weight="700" fill="#fff" stroke="#fff" stroke-width="0.35" text-anchor="middle" textLength="26.2" lengthAdjust="spacingAndGlyphs">A4</text></g>
<g transform="translate(266.1,244.5) rotate(2.0)"><rect x="-0.5" y="-0.5" width="216.4" height="34.8" fill="#fff"/><rect x="0" y="0" width="215.4" height="33.8" fill="#b95fa6"/><text x="17.70" y="24.90" font-size="25" font-weight="700" fill="#fff" stroke="#fff" stroke-width="0.35" text-anchor="middle" textLength="27.6" lengthAdjust="spacingAndGlyphs">B1</text><line x1="36.00" y1="0" x2="36.00" y2="33.8" stroke="#fbf3f9" stroke-width="1.1"/><text x="54.90" y="24.90" font-size="25" font-weight="700" fill="#fff" stroke="#fff" stroke-width="0.35" text-anchor="middle" textLength="27.6" lengthAdjust="spacingAndGlyphs">B2</text><line x1="72.20" y1="0" x2="72.20" y2="33.8" stroke="#fbf3f9" stroke-width="1.1"/><text x="91.20" y="24.90" font-size="25" font-weight="700" fill="#fff" stroke="#fff" stroke-width="0.35" text-anchor="middle" textLength="27.6" lengthAdjust="spacingAndGlyphs">B3</text><line x1="108.40" y1="0" x2="108.40" y2="33.8" stroke="#fbf3f9" stroke-width="1.1"/><text x="127.35" y="24.90" font-size="25" font-weight="700" fill="#fff" stroke="#fff" stroke-width="0.35" text-anchor="middle" textLength="27.6" lengthAdjust="spacingAndGlyphs">B4</text><line x1="143.70" y1="0" x2="143.70" y2="33.8" stroke="#fbf3f9" stroke-width="1.1"/><text x="162.70" y="24.90" font-size="25" font-weight="700" fill="#fff" stroke="#fff" stroke-width="0.35" text-anchor="middle" textLength="27.6" lengthAdjust="spacingAndGlyphs">B5</text><line x1="179.30" y1="0" x2="179.30" y2="33.8" stroke="#fbf3f9" stroke-width="1.1"/><text x="198.65" y="24.90" font-size="25" font-weight="700" fill="#fff" stroke="#fff" stroke-width="0.35" text-anchor="middle" textLength="27.6" lengthAdjust="spacingAndGlyphs">B6</text></g>
<g transform="translate(521.4,263.8) rotate(0.55)"><rect x="-0.5" y="-0.5" width="185.3" height="41.8" fill="#fff"/><rect x="0" y="0" width="184.3" height="40.8" fill="#b95fa6"/><text x="15.50" y="31.32" font-size="24.5" font-weight="700" fill="#fff" stroke="#fff" stroke-width="0.35" text-anchor="middle" textLength="24.6" lengthAdjust="spacingAndGlyphs">C1</text><line x1="30.60" y1="0" x2="30.60" y2="40.8" stroke="#fbf3f9" stroke-width="1.1"/><text x="46.50" y="31.32" font-size="24.5" font-weight="700" fill="#fff" stroke="#fff" stroke-width="0.35" text-anchor="middle" textLength="24.6" lengthAdjust="spacingAndGlyphs">C2</text><line x1="61.60" y1="0" x2="61.60" y2="40.8" stroke="#fbf3f9" stroke-width="1.1"/><text x="77.35" y="31.32" font-size="24.5" font-weight="700" fill="#fff" stroke="#fff" stroke-width="0.35" text-anchor="middle" textLength="24.6" lengthAdjust="spacingAndGlyphs">C3</text><line x1="92.70" y1="0" x2="92.70" y2="40.8" stroke="#fbf3f9" stroke-width="1.1"/><text x="108.00" y="30.28" font-size="21.6" font-weight="700" fill="#fff" stroke="#fff" stroke-width="0.35" text-anchor="middle" textLength="28" lengthAdjust="spacingAndGlyphs">C3a</text><line x1="122.90" y1="0" x2="122.90" y2="40.8" stroke="#fbf3f9" stroke-width="1.1"/><text x="138.15" y="31.32" font-size="24.5" font-weight="700" fill="#fff" stroke="#fff" stroke-width="0.35" text-anchor="middle" textLength="24.6" lengthAdjust="spacingAndGlyphs">C4</text><line x1="153.40" y1="0" x2="153.40" y2="40.8" stroke="#fbf3f9" stroke-width="1.1"/><text x="168.85" y="31.32" font-size="24.5" font-weight="700" fill="#fff" stroke="#fff" stroke-width="0.35" text-anchor="middle" textLength="24.6" lengthAdjust="spacingAndGlyphs">C5</text></g>
<g transform="translate(746.1,258.4) rotate(0)"><rect x="-0.5" y="-0.5" width="140.6" height="48.4" fill="#fff"/><rect x="0" y="0" width="139.6" height="47.4" fill="#b95fa6"/><text x="23.85" y="30.31" font-size="22.8" font-weight="700" fill="#fff" stroke="#fff" stroke-width="0.35" text-anchor="middle">D1</text><line x1="46.50" y1="0" x2="46.50" y2="47.4" stroke="#fbf3f9" stroke-width="1.1"/><text x="70.20" y="30.31" font-size="22.8" font-weight="700" fill="#fff" stroke="#fff" stroke-width="0.35" text-anchor="middle">D2</text><line x1="93.10" y1="0" x2="93.10" y2="47.4" stroke="#fbf3f9" stroke-width="1.1"/><text x="117.85" y="30.31" font-size="22.8" font-weight="700" fill="#fff" stroke="#fff" stroke-width="0.35" text-anchor="middle">D3</text></g>
<path d="M897.9 258.1 L933.5 258.1 L943.7 269.4 L943.7 306.4 L887.1 306.4 L887.1 281 L897.9 281 Z" fill="#b95fa6" stroke="#fff" stroke-width="1" paint-order="stroke"/>
<text x="923" y="289.7" font-size="22.8" font-weight="700" fill="#fff" stroke="#fff" stroke-width="0.35" text-anchor="middle">D4</text>
<g transform="translate(731.2,401.3) rotate(11.75)"><rect x="-0.5" y="-0.5" width="157.2" height="36.7" fill="#fff"/><rect x="0" y="0" width="156.2" height="35.7" fill="#b95fa6"/><text x="21.90" y="26.37" font-size="22" font-weight="700" fill="#fff" stroke="#fff" stroke-width="0.35" text-anchor="middle">E1</text><line x1="38.60" y1="0" x2="38.60" y2="35.7" stroke="#fbf3f9" stroke-width="1.1"/><text x="58.30" y="26.37" font-size="22" font-weight="700" fill="#fff" stroke="#fff" stroke-width="0.35" text-anchor="middle">E2</text><line x1="77.40" y1="0" x2="77.40" y2="35.7" stroke="#fbf3f9" stroke-width="1.1"/><text x="98.60" y="26.37" font-size="22" font-weight="700" fill="#fff" stroke="#fff" stroke-width="0.35" text-anchor="middle">E3</text><line x1="117.00" y1="0" x2="117.00" y2="35.7" stroke="#fbf3f9" stroke-width="1.1"/><text x="137.00" y="26.37" font-size="22" font-weight="700" fill="#fff" stroke="#fff" stroke-width="0.35" text-anchor="middle">E4</text></g>
<g transform="translate(888.1,423.7) rotate(11.3)"><rect x="-0.5" y="-0.5" width="56.4" height="45.6" fill="#fff"/><rect x="0" y="0" width="55.4" height="44.6" fill="#b95fa6"/><text x="27.50" y="31.80" font-size="22.5" font-weight="700" fill="#fff" stroke="#fff" stroke-width="0.35" text-anchor="middle">E6</text></g>
<circle cx="161.0" cy="299.1" r="21.2" fill="#e60a18" stroke="#1c0506" stroke-width="1.1"/>
<text x="160.6" y="307.80" font-size="24.5" font-weight="700" fill="#fff" stroke="#fff" stroke-width="0.3" text-anchor="middle">1#</text>
<circle cx="359.5" cy="313.2" r="21.2" fill="#e60a18" stroke="#1c0506" stroke-width="1.1"/>
<text x="359.1" y="321.90" font-size="24.5" font-weight="700" fill="#fff" stroke="#fff" stroke-width="0.3" text-anchor="middle">2#</text>
<circle cx="617.4" cy="338.7" r="21.0" fill="#e60a18" stroke="#1c0506" stroke-width="1.1"/>
<text x="617.0" y="347.40" font-size="24.5" font-weight="700" fill="#fff" stroke="#fff" stroke-width="0.3" text-anchor="middle">3#</text>
<circle cx="847.2" cy="334.8" r="21.2" fill="#e60a18" stroke="#1c0506" stroke-width="1.1"/>
<text x="846.8000000000001" y="343.50" font-size="24.5" font-weight="700" fill="#fff" stroke="#fff" stroke-width="0.3" text-anchor="middle">4#</text>
<circle cx="826.3" cy="480.8" r="21.2" fill="#e60a18" stroke="#1c0506" stroke-width="1.1"/>
<text x="825.9" y="489.50" font-size="24.5" font-weight="700" fill="#fff" stroke="#fff" stroke-width="0.3" text-anchor="middle">5#</text>
<text x="187" y="59.300000000000004" font-size="14.6" font-weight="700" fill="#111" text-anchor="middle" textLength="40.4" lengthAdjust="spacing">1号楼</text>
<text x="187" y="86.4" font-size="16.6" fill="#222" text-anchor="middle" textLength="100" lengthAdjust="spacingAndGlyphs">A1/A2/A3/A4</text>
<text x="187" y="129.3" font-size="16.4" font-weight="700" fill="#4d86b8" text-anchor="middle" textLength="79.5" lengthAdjust="spacing" filter="url(#soft)">极简风韵</text>
<text x="381" y="59.300000000000004" font-size="14.6" font-weight="700" fill="#111" text-anchor="middle" textLength="40.4" lengthAdjust="spacing">2号楼</text>
<text x="381" y="86.4" font-size="16.6" fill="#222" text-anchor="middle" textLength="145.6" lengthAdjust="spacingAndGlyphs">B1/B2/B3/B4/B5/B6</text>
<text x="381" y="129.3" font-size="16.4" font-weight="700" fill="#2b2b2b" text-anchor="middle" textLength="80" lengthAdjust="spacing" filter="url(#soft)">当代摩登</text>
<text x="597.3" y="59.300000000000004" font-size="14.6" font-weight="700" fill="#111" text-anchor="middle" textLength="40.4" lengthAdjust="spacing">3号楼</text>
<text x="597.3" y="86.4" font-size="16.6" fill="#222" text-anchor="middle" textLength="158" lengthAdjust="spacingAndGlyphs">C1/C2/C3/C3a/C4/C5</text>
<text x="597.3" y="129.3" font-size="16.4" font-weight="700" fill="#2b2b2b" text-anchor="middle" textLength="78" lengthAdjust="spacing" filter="url(#soft)">当代摩登</text>
<text x="769.3" y="59.7" font-size="14.6" font-weight="700" fill="#111" text-anchor="middle" textLength="40.4" lengthAdjust="spacing">4号楼</text>
<text x="769.3" y="87.0" font-size="16.6" fill="#222" text-anchor="middle" textLength="75.5" lengthAdjust="spacingAndGlyphs">D1/D2/D3</text>
<text x="769.3" y="129.3" font-size="16.4" font-weight="700" fill="#2b2b2b" text-anchor="middle" textLength="76.5" lengthAdjust="spacing" filter="url(#soft)">当代摩登</text>
<text x="930.3" y="61.1" font-size="14.6" font-weight="700" fill="#111" text-anchor="middle" textLength="40.4" lengthAdjust="spacing">4号楼</text>
<text x="930.3" y="88.0" font-size="16.6" fill="#222" text-anchor="middle" textLength="19.5" lengthAdjust="spacingAndGlyphs">D4</text>
<text x="930.3" y="130.0" font-size="16.4" font-weight="700" fill="#8a7443" text-anchor="middle" textLength="76.5" lengthAdjust="spacing" filter="url(#soft)">都会雅奢</text>
<text x="780" y="587.3000000000001" font-size="14.6" font-weight="700" fill="#111" text-anchor="middle" textLength="40.4" lengthAdjust="spacing">5号楼</text>
<text x="780" y="614.0" font-size="16.6" fill="#222" text-anchor="middle" textLength="90.3" lengthAdjust="spacingAndGlyphs">E1/E2/E3/E4</text>
<text x="780" y="656.3" font-size="16.4" font-weight="700" fill="#2b2b2b" text-anchor="middle" textLength="76.7" lengthAdjust="spacing" filter="url(#soft)">当代摩登</text>
<text x="949" y="587.3000000000001" font-size="14.6" font-weight="700" fill="#111" text-anchor="middle" textLength="40.4" lengthAdjust="spacing">5号楼</text>
<text x="949" y="614.0" font-size="16.6" fill="#222" text-anchor="middle" textLength="17.5" lengthAdjust="spacingAndGlyphs">E6</text>
<text x="949" y="656.3" font-size="16.4" font-weight="700" fill="#8a7443" text-anchor="middle" textLength="75.8" lengthAdjust="spacing" filter="url(#soft)">都会雅奢</text>
<rect x="0" y="688.9" width="1080" height="0.6" fill="#9a9a9a"/><rect x="0" y="689.4" width="1080" height="1.6" fill="#2b2b2b"/>
</svg></body></html>
